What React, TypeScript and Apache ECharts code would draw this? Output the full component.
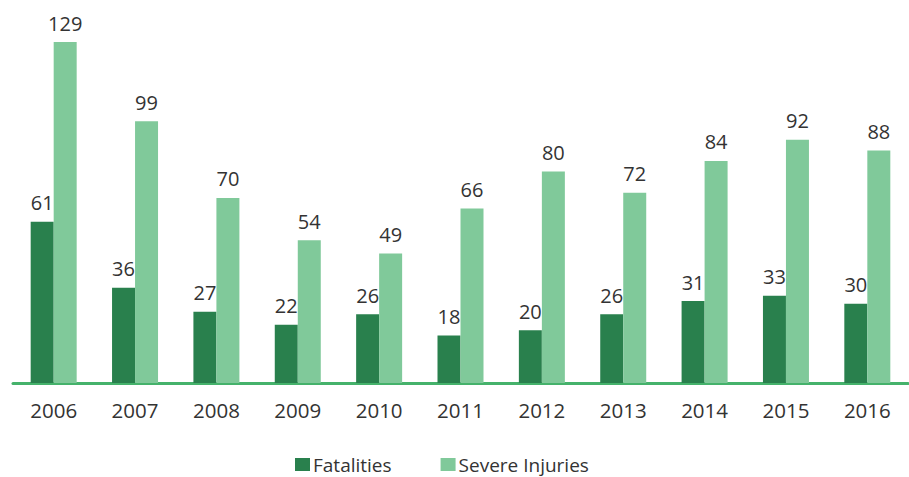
import React, { useEffect, useRef } from "react";
import * as echarts from "echarts";

const categories = ["2006", "2007", "2008", "2009", "2010", "2011", "2012", "2013", "2014", "2015", "2016"];
const fatalities = [61, 36, 27, 22, 26, 18, 20, 26, 31, 33, 30];
const severeInjuries = [129, 99, 70, 54, 49, 66, 80, 72, 84, 92, 88];

const FONT = "'Open Sans', 'Noto Sans', sans-serif";

export default function App() {
  const ref = useRef<HTMLDivElement>(null);
  useEffect(() => {
    if (!ref.current) return;
    const chart = echarts.init(ref.current, undefined, { renderer: "svg" });
    const label = {
      show: true,
      position: "top" as const,
      distance: 9,
      color: "#333333",
      fontSize: 20,
      fontFamily: FONT,
    };
    chart.setOption({
      animation: false,
      grid: { left: 13, right: 1, top: 42, bottom: 94 },
      legend: {
        top: 455,
        padding: 0,
        left: 295,
        itemWidth: 15,
        itemHeight: 13,
        itemGap: 49,
        icon: "rect",
        textStyle: { color: "#333333", fontSize: 19, fontFamily: FONT, padding: [0, 0, 0, -2] },
        data: ["Fatalities", "Severe Injuries"],
      },
      xAxis: {
        type: "category",
        data: categories,
        axisLine: { lineStyle: { color: "#45B26B", width: 3 } },
        axisTick: { show: false },
        axisLabel: { color: "#333333", fontSize: 20.5, fontFamily: FONT, margin: 16 },
      },
      yAxis: {
        type: "value",
        min: 0,
        max: 129,
        show: false,
        splitLine: { show: false },
      },
      series: [
        {
          name: "Fatalities",
          type: "bar",
          data: fatalities,
          barWidth: 23,
          barGap: "0%",
          itemStyle: { color: "#29804D" },
          label,
        },
        {
          name: "Severe Injuries",
          type: "bar",
          data: severeInjuries,
          barWidth: 23,
          barGap: "0%",
          itemStyle: { color: "#80C99A" },
          label,
        },
      ],
    });
    return () => chart.dispose();
  }, []);
  return (
    <div
      ref={ref}
      style={{ position: "absolute", left: 0, top: 0, width: 909, height: 477 }}
    />
  );
}
